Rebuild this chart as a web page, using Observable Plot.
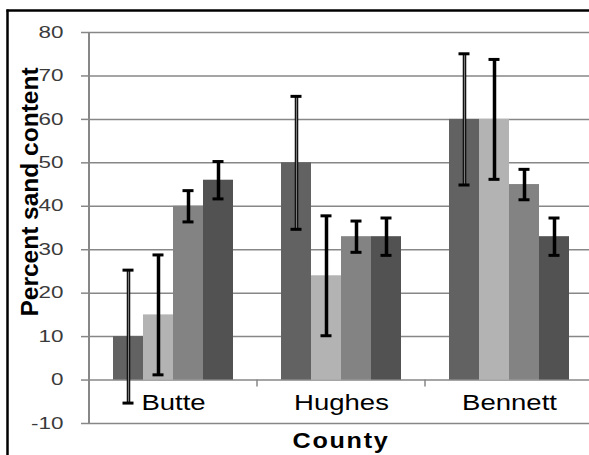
<!DOCTYPE html>
<html><head><meta charset="utf-8">
<script src="https://cdn.jsdelivr.net/npm/d3@7"></script>
<script src="https://cdn.jsdelivr.net/npm/@observablehq/plot@0.6"></script>
<style>html,body{margin:0;padding:0;background:#fff;} #chart{width:589px;height:455px;overflow:hidden}</style>
</head><body><div id="chart"></div>
<script>
const counties = ["Butte", "Hughes", "Bennett"];
const seriesNames = ["Series 1", "Series 2", "Series 3", "Series 4"];
const series1 = [10, 50, 60];
const series2 = [15, 24, 60];
const series3 = [40, 33, 45];
const series4 = [46, 33, 33];
const err1 = [15.3, 15.3, 15.1];
const err2 = [13.8, 13.8, 13.8];
const err3 = [3.6, 3.6, 3.5];
const err4 = [4.3, 4.3, 4.3];
const yTicks = [-10, 0, 10, 20, 30, 40, 50, 60, 70, 80];
const yLabel = "Percent sand content";
const xLabel = "County";
const barColors = ["#626262", "#b3b3b3", "#838383", "#525252"];

const values = [series1, series2, series3, series4];
const errs = [err1, err2, err3, err4];
const data = [];
seriesNames.forEach((s, i) => counties.forEach((c, j) =>
  data.push({county: c, series: s, value: values[i][j], err: errs[i][j]})));

const gray = "#878787";
const plot = Plot.plot({
  width: 589, height: 455,
  marginLeft: 89, marginRight: -4, marginTop: 32, marginBottom: 32,
  style: {fontFamily: "Liberation Sans, Arial, sans-serif", fontSize: "16px", background: "#fff", color: "#222"},
  fx: {domain: counties, padding: 0, axis: null, label: null},
  x: {domain: seriesNames, paddingInner: 0, paddingOuter: 0.73, axis: null},
  y: {domain: [-10, 80], axis: null},
  color: {domain: seriesNames, range: barColors},
  marks: [
    Plot.gridY(yTicks, {stroke: gray, strokeOpacity: 1, strokeWidth: 1.5}),
    Plot.axisY(yTicks, {tickSize: 8, tickPadding: 18, stroke: gray, strokeWidth: 1.5, fill: "#3a3a3a", tickFormat: d => String(d), label: null}),
    Plot.barY(data, {fx: "county", x: "series", y: "value", fill: "series"}),
    Plot.ruleX(data, {fx: "county", x: "series", y1: d => d.value - d.err, y2: d => d.value + d.err, stroke: "#000", strokeWidth: 3.5}),
    Plot.ruleX(data.filter(d => d.series === seriesNames[0]), {fx: "county", x: "series", y1: d => d.value - d.err, y2: d => d.value + d.err, stroke: "#7a7a7a", strokeWidth: 1.3}),
    Plot.tickY(data, {fx: "county", x: "series", y: d => d.value + d.err, stroke: "#000", strokeWidth: 3, insetLeft: 9.5, insetRight: 9.5}),
    Plot.tickY(data, {fx: "county", x: "series", y: d => d.value - d.err, stroke: "#000", strokeWidth: 3, insetLeft: 9.5, insetRight: 9.5}),
    Plot.text(counties, {fx: d => d, text: d => d, frameAnchor: "bottom", dy: -14, fontSize: 22, fill: "#000"})
  ]
});
document.getElementById("chart").appendChild(plot);

const svg = d3.select(plot);
// stretch tick labels horizontally like the original
svg.selectAll('g[aria-label="y-axis tick label"] text').each(function() {
  const L = this.getComputedTextLength();
  d3.select(this).attr("textLength", L * 1.4).attr("lengthAdjust", "spacingAndGlyphs");
});
svg.selectAll('g[aria-label="text"] text').each(function() {
  const L = this.getComputedTextLength();
  d3.select(this).attr("textLength", L * 1.25).attr("lengthAdjust", "spacingAndGlyphs");
});

const fx = plot.scale("fx");
const y = plot.scale("y");
const deco = svg.append("g");
// category boundary ticks on the zero line
counties.slice(1).forEach(c => {
  const xx = fx.apply(c);
  deco.append("line").attr("x1", xx).attr("x2", xx).attr("y1", y.apply(0)).attr("y2", y.apply(0) + 7)
    .attr("stroke", gray).attr("stroke-width", 1.5);
});
// value axis line
deco.append("line").attr("x1", fx.range[0]).attr("x2", fx.range[0])
  .attr("y1", y.apply(80)).attr("y2", y.apply(-10)).attr("stroke", gray).attr("stroke-width", 2);
// outer chart border
deco.append("line").attr("x1", 6.5).attr("x2", 589).attr("y1", 10.5).attr("y2", 10.5).attr("stroke", "#000").attr("stroke-width", 2.5);
deco.append("line").attr("x1", 7.5).attr("x2", 7.5).attr("y1", 9.5).attr("y2", 455).attr("stroke", "#000").attr("stroke-width", 2.5);
// axis titles
deco.append("text").text(yLabel)
  .attr("transform", "translate(38,192) rotate(-90)")
  .attr("text-anchor", "middle").attr("font-weight", "bold").attr("font-size", 24.5).attr("fill", "#000");
deco.append("text").text(xLabel)
  .attr("x", 341).attr("y", 448)
  .attr("text-anchor", "middle").attr("font-weight", "bold").attr("font-size", 22).attr("fill", "#000")
  .attr("letter-spacing", 1.5)
  .attr("textLength", 97).attr("lengthAdjust", "spacingAndGlyphs");
</script>
</body></html>
